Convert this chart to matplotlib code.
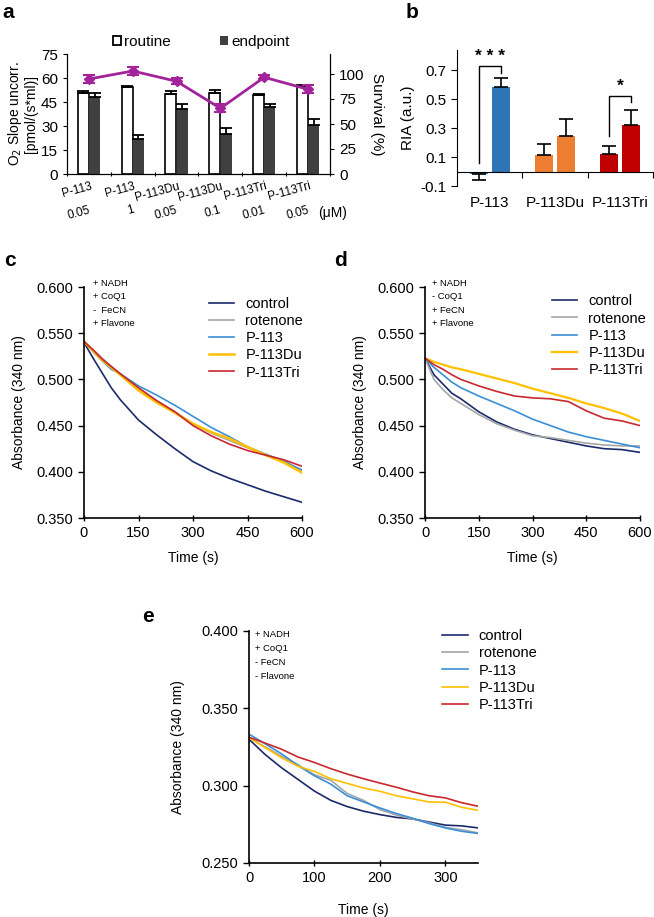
import matplotlib
matplotlib.use("Agg")
import matplotlib.pyplot as plt
from matplotlib.patches import Patch
import numpy as np

plt.rcParams['font.family'] = ['Liberation Sans', 'DejaVu Sans']

# ---------------- data ----------------
# panel a
a_compounds = ["P-113", "P-113", "P-113Du", "P-113Du", "P-113Tri", "P-113Tri"]
a_conc = ["0.05", "1", "0.05", "0.1", "0.01", "0.05"]
a_routine = [50.5, 54.2, 50.0, 50.5, 49.5, 55.0]
a_routine_err = [1.6, 0.5, 2.0, 1.8, 0.6, 0.6]
a_endpoint = [48.3, 21.7, 40.4, 24.8, 41.7, 30.6]
a_endpoint_err = [2.1, 2.7, 3.3, 3.7, 2.3, 3.8]
a_survival = [95.0, 103.0, 92.7, 65.7, 96.7, 84.7]
a_survival_err = [4.0, 4.0, 3.0, 4.0, 2.0, 4.0]

# panel b
b_groups = ["P-113", "P-113Du", "P-113Tri"]
b_first = [-0.018, 0.117, 0.119]
b_first_err = [0.04, 0.07, 0.055]
b_second = [0.585, 0.246, 0.324]
b_second_err = [0.06, 0.12, 0.10]
b_colors = ["#2e75b6", "#ed7d31", "#c00000"]

# panels c/d/e
series_names = ["control", "rotenone", "P-113", "P-113Du", "P-113Tri"]
series_colors = ["#1c2a6b", "#a6a6a6", "#3a8fd6", "#ffc000", "#c8282e"]

t_cd = [0, 25, 50, 75, 100, 150, 200, 250, 300, 350, 400, 450, 500, 550, 600]
c_control = [0.540, 0.523, 0.507, 0.491, 0.478, 0.456, 0.440, 0.425, 0.411, 0.401, 0.393, 0.386, 0.379, 0.373, 0.367]
c_rotenone = [0.540, 0.532, 0.523, 0.514, 0.506, 0.490, 0.477, 0.465, 0.452, 0.442, 0.434, 0.426, 0.419, 0.412, 0.401]
c_p113 = [0.541, 0.530, 0.520, 0.511, 0.506, 0.493, 0.483, 0.472, 0.460, 0.448, 0.438, 0.427, 0.419, 0.411, 0.402]
c_p113du = [0.541, 0.531, 0.521, 0.513, 0.505, 0.488, 0.475, 0.464, 0.452, 0.443, 0.436, 0.427, 0.418, 0.410, 0.399]
c_p113tri = [0.541, 0.532, 0.522, 0.514, 0.506, 0.491, 0.477, 0.465, 0.450, 0.439, 0.430, 0.423, 0.418, 0.413, 0.406]

d_control = [0.523, 0.505, 0.495, 0.485, 0.479, 0.465, 0.454, 0.446, 0.440, 0.436, 0.432, 0.428, 0.425, 0.424, 0.421]
d_rotenone = [0.523, 0.500, 0.489, 0.480, 0.474, 0.462, 0.452, 0.445, 0.439, 0.437, 0.434, 0.431, 0.429, 0.428, 0.428]
d_p113 = [0.523, 0.513, 0.505, 0.497, 0.491, 0.482, 0.474, 0.466, 0.457, 0.450, 0.443, 0.438, 0.434, 0.430, 0.426]
d_p113du = [0.523, 0.519, 0.516, 0.513, 0.511, 0.506, 0.501, 0.496, 0.490, 0.485, 0.480, 0.474, 0.469, 0.463, 0.455]
d_p113tri = [0.523, 0.516, 0.511, 0.505, 0.500, 0.493, 0.487, 0.482, 0.480, 0.479, 0.476, 0.466, 0.458, 0.455, 0.450]

t_e = [0, 25, 50, 75, 100, 125, 150, 175, 200, 225, 250, 275, 300, 325, 350]
e_control = [0.330, 0.320, 0.3115, 0.304, 0.2965, 0.2905, 0.2865, 0.2835, 0.2813, 0.2795, 0.2785, 0.2765, 0.2745, 0.2740, 0.2727]
e_rotenone = [0.331, 0.325, 0.319, 0.3135, 0.307, 0.3035, 0.295, 0.2905, 0.2845, 0.281, 0.2785, 0.2760, 0.2730, 0.2715, 0.2695]
e_p113 = [0.3333, 0.327, 0.3205, 0.313, 0.3064, 0.301, 0.2935, 0.2895, 0.2856, 0.282, 0.279, 0.2755, 0.2727, 0.2705, 0.2691]
e_p113du = [0.331, 0.3245, 0.318, 0.3125, 0.3092, 0.3045, 0.3015, 0.2985, 0.2964, 0.2935, 0.2915, 0.2895, 0.2893, 0.286, 0.2841]
e_p113tri = [0.3313, 0.3275, 0.3235, 0.3185, 0.315, 0.311, 0.3075, 0.3045, 0.3017, 0.299, 0.2960, 0.2935, 0.2921, 0.289, 0.2867]

cond_c = ["+ NADH", "+ CoQ1", "-  FeCN", "+ Flavone"]
cond_d = ["+ NADH", "- CoQ1", "+ FeCN", "+ Flavone"]
cond_e = ["+ NADH", "+ CoQ1", "- FeCN", "- Flavone"]

# ---------------- figure ----------------
W, H = 654, 917
fig = plt.figure(figsize=(W / 100, H / 100), dpi=100)


def ax_px(left, top, right, bottom):
    return fig.add_axes([left / W, 1 - bottom / H, (right - left) / W, (bottom - top) / H])


TICK = 10

# ---------- panel a ----------
axa = ax_px(67, 54, 330, 174)
x = np.arange(len(a_compounds))
axa.bar(x - 0.13, a_routine, 0.25, color="white", edgecolor="black", linewidth=1.2, zorder=2)
axa.errorbar(x - 0.13, a_routine, yerr=[np.zeros(6), a_routine_err], fmt="none",
             ecolor="black", elinewidth=1.3, capsize=4, capthick=1.3, zorder=3)
axa.bar(x + 0.13, a_endpoint, 0.25, color="#404040", edgecolor="none", zorder=2)
axa.errorbar(x + 0.13, a_endpoint, yerr=[np.zeros(6), a_endpoint_err], fmt="none",
             ecolor="black", elinewidth=1.3, capsize=4, capthick=1.3, zorder=3)
axa.set_xlim(-0.5, 5.5)
axa.set_ylim(0, 75)
axa.set_yticks([0, 15, 30, 45, 60, 75])
axa.tick_params(axis="y", labelsize=TICK + 1, length=3)
axa.set_xticks(np.arange(-0.5, 6, 1.0))
axa.set_xticklabels([])
axa.tick_params(axis="x", length=3, direction="inout")
axa.spines["top"].set_visible(False)
for i, (cmp, cc) in enumerate(zip(a_compounds, a_conc)):
    axa.text(i + 0.02, -0.05, cmp, transform=axa.get_xaxis_transform(), ha="right", va="top",
             rotation=15, rotation_mode="anchor", fontsize=8.5)
    axa.text(i - 0.02, -0.25, cc, transform=axa.get_xaxis_transform(), ha="right", va="top",
             rotation=15, rotation_mode="anchor", fontsize=8.5)
axa.text(0.955, -0.27, "(μM)", transform=axa.transAxes, ha="left", va="top", fontsize=10)
axa.set_ylabel("O$_2$ Slope uncorr.\n[pmol/(s*ml)]", fontsize=TICK, labelpad=2, linespacing=1.0)

axa2 = axa.twinx()
axa2.errorbar(x, a_survival, yerr=a_survival_err, color="#a3249a", marker="D", markersize=5,
              linewidth=2, elinewidth=1.5, capsize=4, capthick=1.5, zorder=5)
axa2.set_ylim(0, 120)
axa2.set_yticks([0, 25, 50, 75, 100])
axa2.tick_params(axis="y", labelsize=TICK + 1, length=3)
axa2.spines["top"].set_visible(False)
axa2.set_ylabel("Survival (%)", rotation=270, fontsize=TICK + 1, labelpad=14)

axa.legend(handles=[Patch(facecolor="white", edgecolor="black", linewidth=1.3),
                    Patch(facecolor="#404040", edgecolor="none")],
           labels=["routine", "endpoint"], ncol=2, loc="center", bbox_to_anchor=(0.51, 1.1),
           frameon=False, fontsize=TICK + 1, handlelength=0.55, handleheight=0.55,
           handletextpad=0.2, columnspacing=3.2, borderpad=0)

fig.text(2 / W, 1 - 12 / H, "a", fontsize=15, fontweight="bold", va="center", ha="left")

# ---------- panel b ----------
axb = ax_px(457, 50, 653, 186)
for i in range(3):
    v1, e1 = b_first[i], b_first_err[i]
    v2, e2 = b_second[i], b_second_err[i]
    axb.bar(i - 0.17, v1, 0.277, color=b_colors[i], zorder=2)
    axb.bar(i + 0.17, v2, 0.277, color=b_colors[i], zorder=2)
    lo1 = e1 if v1 < 0 else 0
    hi1 = 0 if v1 < 0 else e1
    axb.errorbar(i - 0.17, v1, yerr=[[lo1], [hi1]], fmt="none", ecolor="black",
                 elinewidth=1.2, capsize=5, capthick=1.2, zorder=3)
    axb.errorbar(i + 0.17, v2, yerr=[[0], [e2]], fmt="none", ecolor="black",
                 elinewidth=1.2, capsize=5, capthick=1.2, zorder=3)
axb.set_xlim(-0.5, 2.5)
axb.set_ylim(-0.1, 0.84)
axb.set_yticks([-0.1, 0.1, 0.3, 0.5, 0.7])
axb.set_yticklabels(["-0.1", "0.1", "0.3", "0.5", "0.7"])
axb.tick_params(axis="y", labelsize=TICK + 1, length=4)
axb.spines["top"].set_visible(False)
axb.spines["right"].set_visible(False)
axb.spines["bottom"].set_position(("data", 0))
axb.set_xticks([0.5, 1.5, 2.5])
axb.set_xticklabels([])
axb.tick_params(axis="x", length=4)
for i, g in enumerate(b_groups):
    axb.text(i, -0.07, g, transform=axb.get_xaxis_transform(), ha="center", va="top", fontsize=TICK + 1)
axb.set_ylabel("RIA (a.u.)", fontsize=TICK + 1, labelpad=4)
# significance brackets
axb.plot([-0.17, -0.17, 0.17, 0.17], [0.06, 0.729, 0.729, 0.683], color="black", lw=1.0)
axb.text(0, 0.745, "* * *", ha="center", va="bottom", fontsize=12.5, fontweight="bold")
axb.plot([1.83, 1.83, 2.17, 2.17], [0.246, 0.522, 0.522, 0.478], color="black", lw=1.0)
axb.text(2, 0.54, "*", ha="center", va="bottom", fontsize=12.5, fontweight="bold")
fig.text(406 / W, 1 - 12 / H, "b", fontsize=15, fontweight="bold", va="center", ha="left")


# ---------- panels c/d/e ----------
def kinetic(ax, t, ys, xlim, xticks, ylim, yticks, conds, leg_anchor, du_lw=1.2):
    for name, col, y in zip(series_names, series_colors, ys):
        lw = du_lw if name == "P-113Du" else 1.2
        ax.plot(t, y, color=col, lw=lw, label=name)
    ax.set_xlim(*xlim)
    ax.set_ylim(*ylim)
    ax.set_xticks(xticks)
    ax.set_yticks(yticks)
    ax.set_yticklabels([f"{v:.3f}" for v in yticks])
    ax.spines["top"].set_visible(False)
    ax.spines["right"].set_visible(False)
    ax.spines["left"].set_linewidth(1.2)
    ax.spines["bottom"].set_linewidth(1.2)
    ax.tick_params(axis="y", labelsize=TICK + 0.5, length=4, width=1.0)
    ax.tick_params(axis="x", labelsize=TICK + 0.5, length=5, width=1.0, direction="inout")
    ax.set_xlabel("Time (s)", fontsize=TICK, labelpad=8)
    ax.set_ylabel("Absorbance (340 nm)", fontsize=TICK, labelpad=8)
    for k, c in enumerate(conds):
        ax.text(leg_anchor[2], leg_anchor[3] - k * 0.059, c, transform=ax.transAxes,
                fontsize=6.8, ha="left", va="center")
    ax.legend(loc="upper left", bbox_to_anchor=(leg_anchor[0], leg_anchor[1]), frameon=False,
              fontsize=TICK + 0.5, handlelength=1.75, handletextpad=0.75, labelspacing=0.22,
              borderpad=0, borderaxespad=0)


axc = ax_px(84, 287, 302, 518)
kinetic(axc, t_cd, [c_control, c_rotenone, c_p113, c_p113du, c_p113tri], (0, 600),
        [0, 150, 300, 450, 600], (0.35, 0.60), [0.350, 0.400, 0.450, 0.500, 0.550, 0.600],
        cond_c, (0.573, 0.958, 0.04, 1.017), du_lw=1.8)
fig.text(4 / W, 1 - 261 / H, "c", fontsize=15, fontweight="bold", va="center", ha="left")

axd = ax_px(425, 287, 640, 518)
kinetic(axd, t_cd, [d_control, d_rotenone, d_p113, d_p113du, d_p113tri], (0, 600),
        [0, 150, 300, 450, 600], (0.35, 0.60), [0.350, 0.400, 0.450, 0.500, 0.550, 0.600],
        cond_d, (0.59, 0.968, 0.033, 1.017), du_lw=1.6)
fig.text(334 / W, 1 - 261 / H, "d", fontsize=15, fontweight="bold", va="center", ha="left")

axe = ax_px(249, 631, 478, 863)
kinetic(axe, t_e, [e_control, e_rotenone, e_p113, e_p113du, e_p113tri], (0, 350),
        [0, 100, 200, 300], (0.25, 0.40), [0.250, 0.300, 0.350, 0.400],
        cond_e, (0.843, 1.008, 0.026, 0.983))
axe.xaxis.labelpad = 13
axe.yaxis.labelpad = 12
fig.text(142 / W, 1 - 617 / H, "e", fontsize=15, fontweight="bold", va="center", ha="left")

fig.savefig("out.png", dpi=100)
